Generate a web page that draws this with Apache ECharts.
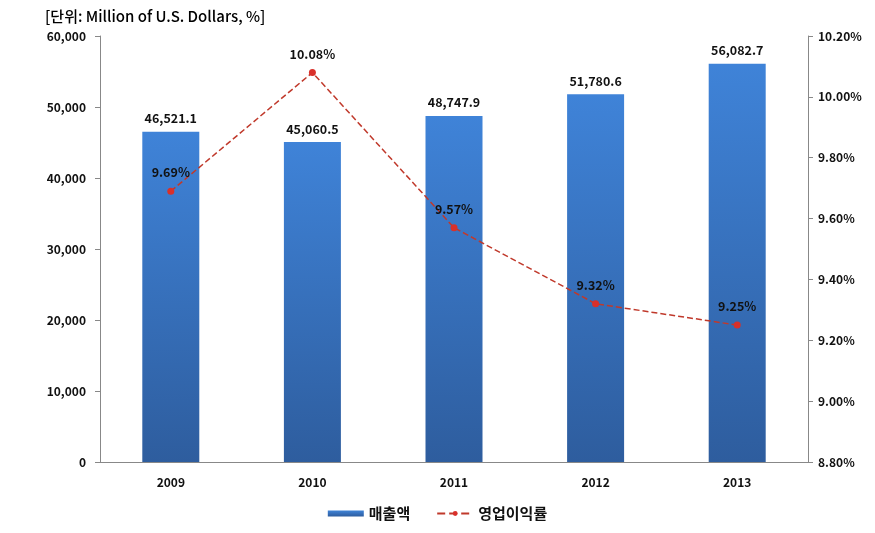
<!DOCTYPE html>
<html><head><meta charset="utf-8">
<script src="https://cdn.jsdelivr.net/npm/echarts@6/dist/echarts.min.js"></script>
<style>html,body{margin:0;padding:0;background:#fff}#c{width:875px;height:533px}</style>
</head><body><div id="c"></div>
<script>
const categories = ['2009','2010','2011','2012','2013'];
const sales = [46521.1, 45060.5, 48747.9, 51780.6, 56082.7];
const margin = [9.69, 10.08, 9.57, 9.32, 9.25];
const leftTicks = {min:0, max:60000, interval:10000};
const rightTicks = {min:8.8, max:10.2, interval:0.2};
const FONT = '"Noto Sans CJK KR", "Noto Sans", sans-serif';
const chart = echarts.init(document.getElementById('c'));
chart.setOption({
  animation:false,
  textStyle:{fontFamily:FONT},
  title:{text:'[단위: Million of U.S. Dollars, %]', left:40, top:4,
    textStyle:{fontSize:15, fontWeight:500, color:'#000', fontFamily:FONT}},
  grid:{left:100, right:67, top:36, bottom:71},
  legend:{bottom:7, left:'center', itemGap:26, itemWidth:36, itemHeight:6,
    textStyle:{fontSize:15, fontWeight:'bold', color:'#111', fontFamily:FONT},
    data:[{name:'매출액', icon:'rect'}, {name:'영업이익률'}]},
  xAxis:{type:'category', data:categories,
    axisLine:{lineStyle:{color:'#888'}}, axisTick:{show:false},
    axisLabel:{fontSize:12, fontWeight:'bold', color:'#111', margin:14}},
  yAxis:[
    {type:'value', min:leftTicks.min, max:leftTicks.max, interval:leftTicks.interval,
      axisLine:{show:true, lineStyle:{color:'#888'}}, axisTick:{show:true, length:5, lineStyle:{color:'#888'}},
      splitLine:{show:false},
      axisLabel:{fontSize:12, fontWeight:'bold', color:'#111', margin:14,
        formatter:v=>v.toLocaleString('en-US')}},
    {type:'value', min:rightTicks.min, max:rightTicks.max, interval:rightTicks.interval,
      axisLine:{show:true, lineStyle:{color:'#888'}}, axisTick:{show:true, length:5, lineStyle:{color:'#888'}},
      splitLine:{show:false},
      axisLabel:{fontSize:12, fontWeight:'bold', color:'#111', margin:10,
        formatter:v=>v.toFixed(2)+'%'}}
  ],
  series:[
    {name:'매출액', type:'bar', data:sales, barWidth:57, yAxisIndex:0,
      itemStyle:{color:new echarts.graphic.LinearGradient(0,0,0,1,[
        {offset:0,color:'#3f83d8'},{offset:1,color:'#2e5d9e'}])},
      label:{show:true, position:'top', distance:7, fontSize:12.5, fontWeight:'bold', color:'#111',
        formatter:p=>p.value.toLocaleString('en-US',{minimumFractionDigits:1, maximumFractionDigits:1})}},
    {name:'영업이익률', type:'line', data:margin, yAxisIndex:1,
      symbol:'circle', symbolSize:7,
      lineStyle:{type:'dashed', width:1.5, color:'#c0392b'},
      itemStyle:{color:'#d9302a'},
      label:{show:true, position:'top', distance:9, fontSize:12.5, fontWeight:'bold', color:'#111',
        formatter:p=>p.value.toFixed(2)+'%'}}
  ]
});
</script></body></html>
